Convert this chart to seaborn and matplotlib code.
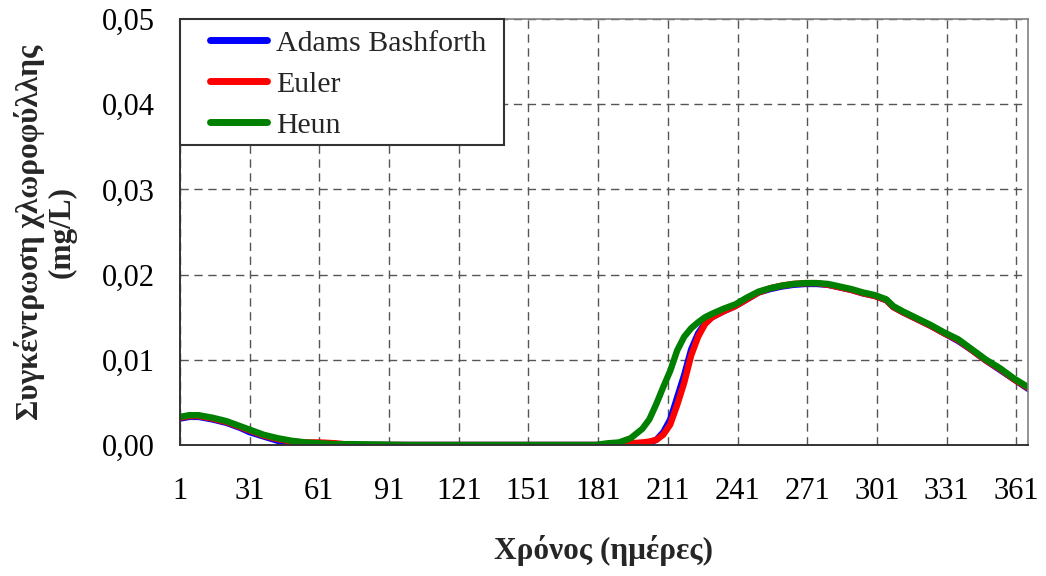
import matplotlib
matplotlib.use("Agg")
import matplotlib.pyplot as plt
from matplotlib.patches import Rectangle
from matplotlib.ticker import FuncFormatter, FixedLocator
import numpy as np
import pandas as pd
import seaborn as sns

# Simulated chlorophyll concentration (mg/L) over one year, three integration schemes
days = [1, 5, 9, 15, 21, 27, 31, 37, 43, 49, 55, 61, 68, 75, 100, 150, 180,
        185, 190, 195, 200, 203, 206, 209, 212, 215, 218, 221, 224, 227, 230,
        235, 240, 245, 250, 255, 260, 265, 270, 275, 280, 285, 290, 295, 300,
        305, 308, 312, 318, 324, 330, 336, 342, 348, 354, 360, 366]

adams_bashforth = [0.0031, 0.0033, 0.0033, 0.0030, 0.0026, 0.0020, 0.0015, 0.0010,
                   0.0005, 0.0003, 0.0001, 0.0000, 0.0000, 0.0000, 0.0000, 0.0000, 0.0000,
                   0.0000, 0.0000, 0.0001, 0.0002, 0.0003, 0.0006, 0.0015, 0.0030, 0.0056,
                   0.0082, 0.0112, 0.0131, 0.0143, 0.0150, 0.0157, 0.0163, 0.0171, 0.0179,
                   0.0183, 0.0186, 0.0188, 0.0189, 0.0189, 0.0188, 0.0185, 0.0182, 0.0178,
                   0.0175, 0.0170, 0.0162, 0.0156, 0.0148, 0.0140, 0.0131, 0.0122, 0.0111,
                   0.0099, 0.0088, 0.0077, 0.0066]

euler = [0.0032, 0.0034, 0.0034, 0.0031, 0.0027, 0.0021, 0.0017, 0.0011,
         0.0007, 0.0004, 0.0003, 0.0003, 0.0002, 0.0000, 0.0000, 0.0000, 0.0000,
         0.0000, 0.0001, 0.0002, 0.0003, 0.0004, 0.0006, 0.0012, 0.0024, 0.0047,
         0.0073, 0.0105, 0.0127, 0.0142, 0.0150, 0.0157, 0.0163, 0.0171, 0.0179,
         0.0184, 0.0187, 0.0189, 0.0190, 0.0190, 0.0188, 0.0185, 0.0182, 0.0178,
         0.0175, 0.0170, 0.0162, 0.0156, 0.0148, 0.0140, 0.0131, 0.0123, 0.0111,
         0.0099, 0.0089, 0.0077, 0.0067]

heun = [0.0033, 0.0035, 0.0035, 0.0032, 0.0028, 0.0022, 0.0018, 0.0012,
        0.0008, 0.0005, 0.0003, 0.0002, 0.0001, 0.0001, 0.0000, 0.0000, 0.0000,
        0.0002, 0.0003, 0.0008, 0.0019, 0.0030, 0.0048, 0.0068, 0.0087, 0.0111,
        0.0127, 0.0137, 0.0144, 0.0150, 0.0154, 0.0160, 0.0165, 0.0173, 0.0180,
        0.0184, 0.0187, 0.0189, 0.0190, 0.0190, 0.0189, 0.0186, 0.0183, 0.0179,
        0.0176, 0.0171, 0.0163, 0.0157, 0.0149, 0.0141, 0.0132, 0.0124, 0.0112,
        0.0100, 0.0090, 0.0078, 0.0068]

methods = ["Adams Bashforth", "Euler", "Heun"]
colors = ["#0000FF", "#FF0000", "#008000"]
x_ticks = list(range(1, 362, 30))
y_ticks = [0.00, 0.01, 0.02, 0.03, 0.04, 0.05]

df = pd.concat([
    pd.DataFrame({"day": days, "value": vals, "method": name})
    for name, vals in zip(methods, [adams_bashforth, euler, heun])
], ignore_index=True)

sns.set_style("white")
plt.rcParams["font.family"] = ["Liberation Serif", "DejaVu Serif"]

fig = plt.figure(figsize=(10.46, 5.76), dpi=100)
ax = fig.add_axes([180 / 1046, 1 - 445 / 576, 848 / 1046, 426 / 576])

sns.lineplot(data=df, x="day", y="value", hue="method", hue_order=methods,
             palette=colors, estimator=None, linewidth=4.6, legend=False, ax=ax,
             solid_capstyle="round", solid_joinstyle="round")

ax.set_xlim(1, 366)
ax.set_ylim(0, 0.05)
ax.xaxis.set_major_locator(FixedLocator(x_ticks))
ax.yaxis.set_major_locator(FixedLocator(y_ticks))
ax.yaxis.set_major_formatter(FuncFormatter(lambda v, p: f"{v:.2f}".replace(".", ",")))

ax.grid(True, which="major", linestyle=(0, (6, 4)), color="#555555", linewidth=1.0)
ax.set_axisbelow(True)

for side in ["left", "bottom"]:
    ax.spines[side].set_color("#333333")
    ax.spines[side].set_linewidth(1.4)
for side in ["top", "right"]:
    ax.spines[side].set_color("#808080")
    ax.spines[side].set_linewidth(1.2)

ax.tick_params(axis="both", direction="out", length=7, width=1.2, color="#555555",
               labelsize=22, labelcolor="black")
ax.tick_params(axis="x", pad=16)
ax.tick_params(axis="y", pad=11)

ax.set_xlabel("Χρόνος (ημέρες)", fontsize=22.5, fontweight="bold", va="center")
ax.xaxis.set_label_coords(0.5, -(550 - 445) / 426)
ax.set_ylabel("Συγκέντρωση χλωροφύλλης\n(mg/L)", fontsize=22.5, fontweight="bold",
              va="center", ha="center", linespacing=1.12)
ax.yaxis.set_label_coords(-(180 - 45) / 848, 0.5)

# Legend box spanning the upper-left corner of the plot area
ax.add_patch(Rectangle((0, (445 - 145) / 426), (504 - 180) / 848, (145 - 19) / 426,
                       transform=ax.transAxes, facecolor="white", edgecolor="#333333",
                       linewidth=1.5, zorder=4, clip_on=False))
leg = ax.legend(handles=ax.lines[:3], labels=methods, loc="upper left",
                bbox_to_anchor=((210 - 180) / 848, 1 - 11 / 426), frameon=False,
                fontsize=21.5, handlelength=1.9, handletextpad=0.3, labelspacing=0.47,
                borderpad=0, borderaxespad=0)
leg.set_zorder(5)
for h in leg.get_lines():
    h.set_linewidth(5)
    h.set_solid_capstyle("round")

fig.savefig("out.png", dpi=100)
